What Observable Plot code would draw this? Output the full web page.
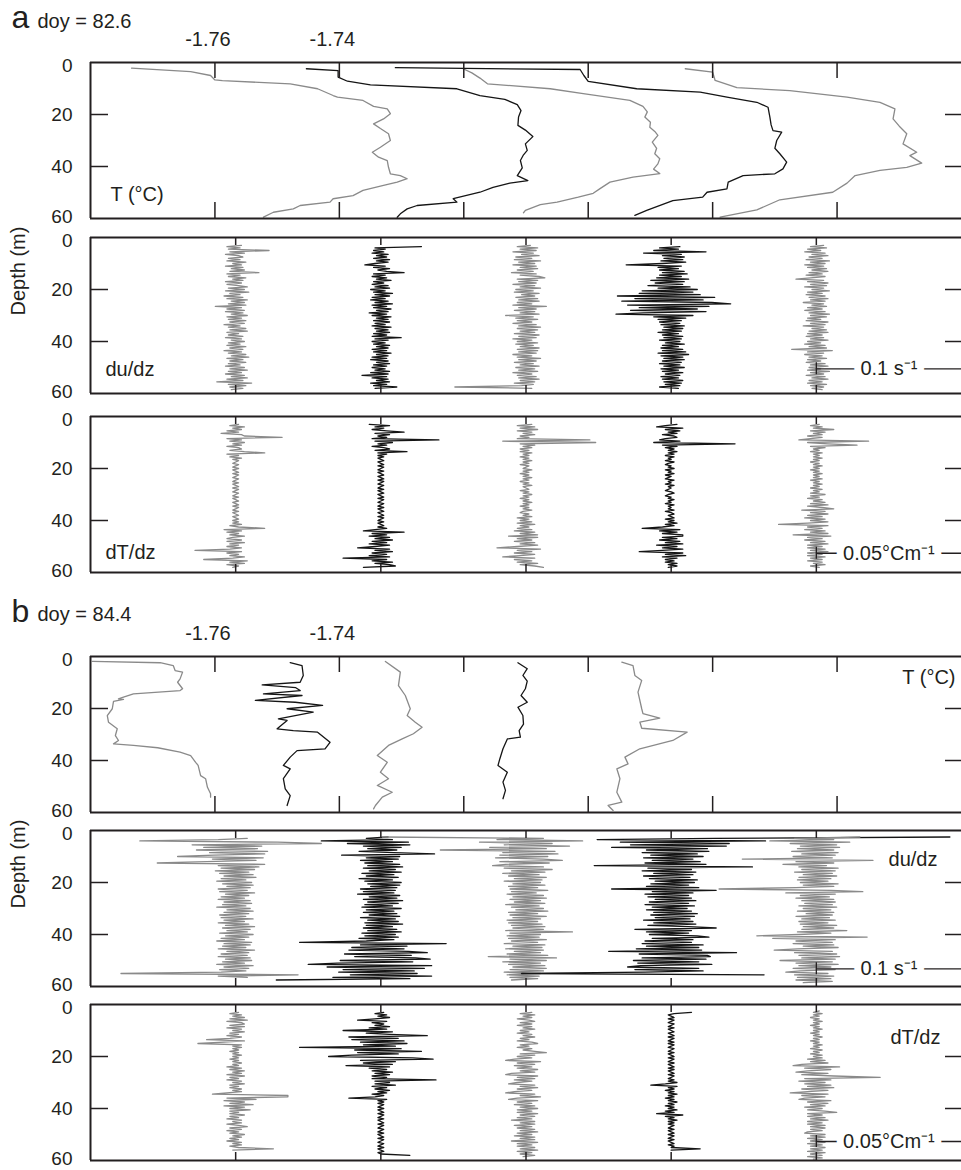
<!DOCTYPE html>
<html>
<head>
<meta charset="utf-8">
<script src="https://cdn.jsdelivr.net/npm/d3@7"></script>
<script src="https://cdn.jsdelivr.net/npm/@observablehq/plot@0.6"></script>
<style>
  body { margin: 0; background: #fff; }
  #fig { position: relative; width: 961px; height: 1170px; overflow: hidden; }
  #fig svg { position: absolute; left: 0; }
</style>
</head>
<body>
<div id="fig"></div>
<script>
// ---- axes ----
const depthTicks = [0, 20, 40, 60];
const tempTicks = [-1.76, -1.74, -1.72, -1.70, -1.68, -1.66];
const tempLabels = [-1.76, -1.74];
const tempDomain = [-1.78, -1.64];
const shearDomain = [0, 0.6];
const shearTicks = [0.1, 0.2, 0.3, 0.4, 0.5];
const shearStep = 0.1;          // s^-1 between successive profiles
const gradDomain = [0, 0.3];
const gradTicks = [0.05, 0.10, 0.15, 0.20, 0.25];
const gradStep = 0.05;          // °C m^-1 between successive profiles
const DZ = 0.5;                 // depth spacing of gradient samples (m)

// ---- temperature profiles, [depth (m), T (°C)] ----
const tempA1 = [[2.2,-1.7734],[3.5,-1.7639],[5,-1.7607],[6.7,-1.7600],[7,-1.7588],[8.2,-1.7479],[10.1,-1.7435],[12.7,-1.7410],[13.3,-1.7403],[14.6,-1.7362],[16.9,-1.7345],[17.8,-1.7323],[19.7,-1.7318],[21.7,-1.7329],[23.6,-1.7345],[25.4,-1.7334],[27.4,-1.7321],[30,-1.7318],[32.6,-1.7334],[34.5,-1.7347],[36.4,-1.7337],[37.7,-1.7323],[40.3,-1.7321],[42.8,-1.7318],[43.5,-1.7302],[44.7,-1.7291],[46,-1.7307],[47.3,-1.7329],[49.2,-1.7362],[51.2,-1.7378],[52.4,-1.7410],[53.7,-1.7415],[55,-1.7463],[56.3,-1.7474],[57.6,-1.7506],[59.5,-1.7522]];
const tempA2 = [[2.4,-1.7453],[3.1,-1.7402],[5.6,-1.7402],[7.2,-1.7387],[8.6,-1.7350],[10.1,-1.7211],[12.7,-1.7174],[14.2,-1.7134],[16.2,-1.7114],[18.5,-1.7108],[21,-1.7112],[24.2,-1.7113],[26,-1.7101],[28.5,-1.7089],[31.3,-1.7101],[33.8,-1.7098],[35.5,-1.7104],[37.7,-1.7109],[40.5,-1.7106],[43.5,-1.7114],[45.4,-1.7097],[46.4,-1.7126],[48,-1.7153],[49.9,-1.7174],[52.4,-1.7217],[53.7,-1.7211],[55,-1.7275],[56.3,-1.7291],[58.2,-1.7302],[59.5,-1.7307]];
const tempA3 = [[2.4,-1.7201],[4,-1.7187],[6,-1.7174],[8.2,-1.7162],[10.1,-1.7061],[12,-1.7008],[14.6,-1.6933],[16.9,-1.6912],[19,-1.6905],[21,-1.6909],[23,-1.6900],[24.9,-1.6901],[26.5,-1.6893],[28,-1.6888],[30.6,-1.6897],[33,-1.6890],[35.1,-1.6893],[37,-1.6885],[39,-1.6888],[41,-1.6895],[42.7,-1.6885],[44.1,-1.6928],[46,-1.6965],[48.5,-1.6981],[50.3,-1.6992],[51.8,-1.7016],[53.7,-1.7050],[54.7,-1.7077],[56.9,-1.7101],[57.8,-1.7104]];
const tempA4 = [[2,-1.7310],[2.7,-1.7013],[5,-1.7007],[7.3,-1.7000],[10.1,-1.6922],[11.4,-1.6820],[13.3,-1.6777],[15.3,-1.6729],[17.2,-1.6711],[21,-1.6708],[24,-1.6706],[26.2,-1.6703],[26.8,-1.6689],[30,-1.6697],[33,-1.6700],[35.1,-1.6692],[38.3,-1.6681],[40.9,-1.6687],[42.8,-1.6700],[43.5,-1.6751],[46,-1.6775],[48.6,-1.6777],[49.9,-1.6809],[51.8,-1.6816],[53.1,-1.6864],[56.9,-1.6906],[58.8,-1.6925]];
const tempA5 = [[2.4,-1.6844],[3.7,-1.6800],[6.9,-1.6796],[9.7,-1.6761],[10.8,-1.6676],[13.3,-1.6584],[15.3,-1.6531],[17.8,-1.6507],[21.7,-1.6510],[24.5,-1.6500],[27.4,-1.6488],[31.3,-1.6494],[34.5,-1.6472],[35.8,-1.6483],[38.7,-1.6464],[40.3,-1.6488],[41.5,-1.6531],[43.5,-1.6571],[46.4,-1.6584],[49.9,-1.6607],[52.8,-1.6692],[56.7,-1.6729],[59.5,-1.6788]];

const tempB1 = [[1.9,-1.7797],[2.4,-1.7688],[3.5,-1.7667],[5.4,-1.7664],[6,-1.7652],[8.6,-1.7656],[9.9,-1.7660],[12.4,-1.7652],[13.1,-1.7656],[14.4,-1.7731],[15.6,-1.7747],[16.3,-1.7755],[16.5,-1.7747],[17.3,-1.7763],[20.1,-1.7765],[22.7,-1.7773],[25.3,-1.7771],[27.8,-1.7757],[30.4,-1.7760],[32.3,-1.7755],[33.6,-1.7763],[34.2,-1.7731],[35.1,-1.7692],[36.8,-1.7656],[38.1,-1.7639],[40.7,-1.7631],[41.9,-1.7627],[45.8,-1.7623],[47,-1.7615],[50.3,-1.7612],[52.8,-1.7607],[54.1,-1.7607]];
const tempB2 = [[2.4,-1.7479],[3.5,-1.7460],[7.3,-1.7458],[9.9,-1.7463],[10.9,-1.7524],[12,-1.7470],[13.1,-1.7463],[14.4,-1.7522],[15,-1.7460],[16.9,-1.7535],[17.6,-1.7471],[18.8,-1.7427],[20.1,-1.7484],[21.4,-1.7442],[24,-1.7498],[24.6,-1.7484],[27.8,-1.7500],[28.5,-1.7474],[29.1,-1.7435],[33,-1.7415],[35.5,-1.7423],[36.2,-1.7468],[38.7,-1.7479],[41.9,-1.7490],[43.2,-1.7479],[47,-1.7490],[50.9,-1.7487],[53.5,-1.7479],[57.3,-1.7484]];
const tempB3 = [[1.9,-1.7326],[6,-1.7302],[11.2,-1.7305],[15,-1.7294],[20.1,-1.7286],[22.7,-1.7291],[25.3,-1.7278],[27.2,-1.7267],[29.7,-1.7281],[31.7,-1.7299],[34.2,-1.7321],[38.1,-1.7339],[40.7,-1.7323],[44.5,-1.7334],[47,-1.7321],[49.6,-1.7339],[52.2,-1.7315],[54.1,-1.7331],[57.3,-1.7342],[58.6,-1.7345]];
const tempB4 = [[2.4,-1.7113],[4.7,-1.7098],[7.3,-1.7105],[9.5,-1.7098],[12.4,-1.7101],[15,-1.7108],[17.6,-1.7098],[19.5,-1.7113],[22.7,-1.7105],[26,-1.7104],[28.5,-1.7111],[31,-1.7109],[31.7,-1.7130],[35.5,-1.7137],[39.3,-1.7142],[41.9,-1.7145],[44.5,-1.7130],[48.3,-1.7137],[51.5,-1.7133],[54.7,-1.7137]];
const tempB5 = [[2.2,-1.6946],[3.5,-1.6928],[7.3,-1.6925],[9.2,-1.6914],[13.7,-1.6920],[20.1,-1.6914],[22,-1.6912],[23.7,-1.6885],[25.2,-1.6917],[27.6,-1.6914],[29.1,-1.6841],[32.3,-1.6864],[35.5,-1.6917],[38.7,-1.6941],[41.3,-1.6936],[43.2,-1.6954],[47,-1.6949],[52.2,-1.6954],[56,-1.6946],[57.3,-1.6968],[59.2,-1.6960]];

// ---- shear du/dz (10^-3 s^-1), every DZ metres from the start depth ----
const shearStartA = [3.0, 3.5, 3.0, 3.5, 3.0];
const shearA1 = [4,-6,3,-5,23,-4,6,-7,2,5, -5,3,-6,7,-2,4,-7,5,-3,6, -4,16,-6,3,-5,7,-2,5,-7,4, -6,2,8,-5,6,-7,9,-4,3,-8, 5,-6,8,-3,6,-5,7,-14,4,-6, 6,-7,5,-3,8,-6,4,-5,7,-4, 6,-8,3,-5,7,-4,8,-6,2,-5, 5,-7,4,-3,6,-5,3,-6,7,-4, 5,-8,4,-5,7,-3,9,-6,5,-4, 7,-5,3,-7,6,-4,8,-5,4,-7, 6,-3,8,-6,5,-13,11,-5,7,-4,5,-3];
const shearA2 = [28,-4,3,-5,2,-6,5,-3,4,-5, 6,-3,5,-4,-11,3,-5,6,-2,4, 16,-5,3,-6,4,-3,7,-5,2,-6, 5,-4,6,-7,3,-5,8,-4,6,-6, 3,-7,5,-4,8,-6,4,-5,7,-3, 5,-8,4,-6,7,-3,5,-5,6,-4, 3,-6,7,-4,5,-3,6,-5,4,-6, 14,-4,5,-6,3,-5,6,-3,5,-6, 4,-5,7,-3,5,-6,4,-7,5,-3, 6,-5,4,-6,3,-4,6,-7,5,-13, 4,-6,5,-3,6,-7,4,-5,11,-4];
const shearA3 = [3,-6,8,-4,7,-9,5,-3,9,-7, 4,-8,10,-5,6,-9,7,-4,8,-6, 5,-10,7,-4,9,13,-6,8,-5,7, -9,6,-4,10,-7,5,-8,9,-3,6, -7,8,-5,9,-6,4,-9,14,-5,7, -8,6,-4,9,-14,5,-7,8,-6,4, -9,7,-5,10,-6,8,-4,6,-8,9, -5,7,-9,4,-6,8,-7,5,-4,9, -6,8,-5,7,-9,4,-6,10,-5,7, -8,5,-4,9,-7,6,-5,8,-9,4, -6,7,-5,9,-4,6,-8,5,-3,-49,4];
const shearA4 = [6,-8,5,-12,24,-19,7,-6,9,-5, 8,-7,10,-6,-31,7,-9,5,-8,9, -6,11,-8,7,-10,12,-14,9,-11,8, -16,13,-9,18,-20,15,-22,20,-37,30, -25,22,-34,28,41,-30,26,-22,18,-28, 24,-19,-38,15,-12,10,-9,7,-8,6, -7,9,-5,8,-6,7,-9,5,-6,8, -5,7,-8,6,-4,9,-6,5,-7,8, -6,10,-9,12,-7,8,-5,9,-6,7, -8,6,-5,9,-7,5,-6,8,-4,6, -7,5,-6,8,-5,7,-4,6,-8,5];
const shearA5 = [5,-4,7,-6,3,-8,6,-3,8,-5, 4,-7,9,-4,6,-8,5,-6,7,-3, 8,-5,4,-7,6,-4,-14,5,-6,8, -4,7,-8,5,-3,9,-6,4,-7,6, -5,8,-4,6,-9,5,-3,7,-6,4, -8,6,-5,9,-4,7,-6,3,-7,8, -4,6,-9,5,-3,7,-5,8,-6,4, -7,5,-4,8,-6,3,-8,6,-5,7, -17,11,-6,5,-8,4,-5,7,-6,3, -7,6,-4,8,-5,3,-6,9,-4,5, -7,6,-3,8,-5,4,-6,7,-4,5,-3,4];

const shearStartB = [3.0, 2.5, 2.5, 2.5, 2.5];
const shearB1 = [8,-12,-66,29,59,-30,18,-22,15,-27, 22,-18,20,-15,-40,19,-16,14,-20,-54, 20,-12,16,-10,13,-14,9,-11,12,-8, 14,-10,7,-13,11,-9,12,-6,10,-12, 8,-11,13,-7,9,-10,6,-12,10,-8, 11,-9,7,-13,10,-6,12,-8,9,-11, 7,-10,12,-8,6,-12,9,-7,13,-9, 10,-6,8,-11,12,-7,9,-10,6,-13, 11,-8,10,-9,7,-12,13,-6,9,-10, 8,-12,10,-7,11,-9,6,-13,12,-8, 9,-11,7,-10,-79,43,-12,8];
const shearB2 = [5,-10,8,-41,19,-23,20,-12,14,-9, 11,-15,9,37,-27,13,-10,12,-14,8, -11,13,-9,15,-12,10,-8,14,-13,9, -10,12,-15,8,-11,14,-9,13,-7,11, -14,10,-12,9,-16,13,-8,11,-12,15, -9,12,-11,8,-13,14,-10,9,-12,11, -8,13,-14,10,-9,12,-11,15,-10,8, -12,11,-9,14,-13,10,-11,12,-15,9, -10,-56,45,-14,18,-20,16,-22,19,32, -25,21,-18,24,34,-28,22,-30,-50,35, -37,30,-26,23,-29,25,-21,35,-33,20,-72];
const shearB3 = [-99,12,-20,39,-32,18,-15,30,-25,14, -59,20,-16,22,-18,15,-21,12,25,-18, 16,-14,-23,12,-15,18,-10,13,-16,9, -12,14,-8,11,-15,10,-9,13,-12,8, -11,15,-10,7,-13,12,-9,14,-11,10, -8,13,-14,9,-10,12,-7,15,-12,8, -11,14,-9,10,-13,8,-12,11,-10,13, -9,12,-14,32,-11,10,-13,9,-12,14, -10,8,-15,13,-9,11,-14,12,-8,10, -13,15,-26,21,-11,14,-16,10,-12,13, -9,14,-11,12,-15,10,-13,9,-11,8,-10];
const shearB4 = [192,30,-51,65,-35,40,-28,38,-41,25, -17,26,-20,18,-14,22,-19,15,-13,20, -18,24,-53,56,-16,14,-20,17,-12,15, -19,13,-15,18,-11,16,-14,12,-17,19, -41,31,-13,15,-18,12,-16,14,-11,17, -15,12,-18,16,-13,11,-17,14,-12,18, -14,16,-11,13,-19,15,-12,17,-16,12, 31,-25,14,-17,12,-15,18,26,-13,15, -18,14,-20,22,-17,19,-24,21,-43,45, -22,25,27,-20,24,-26,19,-23,28,-21, -30,19,-25,22,-18,-103,64];
const shearB5 = [30,-15,12,-32,23,-18,14,-11,16,-13, 12,-17,15,-10,13,-16,11,-51,39,-14, 12,-23,7,-12,15,-10,13,-15,11,-9, 14,-12,10,-13,8,-11,15,-9,12,-14, -67,10,32,-21,13,-11,9,-14,12,-10, 13,-8,11,-12,14,-9,10,-13,12,-7, 11,-14,9,-10,13,-12,8,-11,14,-9, 12,-10,21,-13,10,-12,-41,35,-30,13, -14,11,-16,12,-9,15,-13,-29,11,-15, 14,-12,16,-10,13,-25,11,-14,15,-12, 10,-16,13,-11,-21,8,-15,12,-13,10,-14,11,-9];

// ---- temperature gradient dT/dz (10^-3 °C m^-1), every DZ metres ----
const gradStartA = [3.0, 3.0, 3.0, 3.0, 3.0];
const gradA1 = [1,-2,3,-1,2,-3,1,-5,2,3, 16,-3,2,-2,3,-1,2,-3,1,2, -2,3,10,-3,1,-2,2,-1,1,0, -1,1,0,-1,1,-1,0,1,-1,1, 0,-1,1,0,-1,1,-1,0,1,-1, 1,0,-1,1,0,-1,1,-1,0,1, -1,0,1,-1,1,0,-1,1,-1,0, 1,-1,0,1,-1,1,-1,2,-2,1, 10,-4,2,-3,1,-2,3,-1,-3,2, -3,3,-2,1,-3,2,-2,-14,2,-3, 1,-2,3,-1,-11,4,-2,3,-3,1,-1];
const gradA2 = [-4,3,-2,1,-3,2,8,-2,3,-1, 2,-3,20,-2,4,-1,2,-3,1,3, -2,9,-1,2,-1,1,-1,0,1,-1, 0,1,-1,1,0,-1,1,-1,0,1, -1,0,1,-1,1,0,-1,1,0,-1, 1,-1,0,1,-1,0,1,-1,1,0, -1,1,0,-1,1,-1,0,1,-1,0, 1,-1,1,0,-1,1,-1,0,1,-1, 2,-2,-6,8,-3,2,-4,3,-2,4, -3,2,-4,3,-2,-8,3,-2,4,-3, 2,-4,3,-13,2,-3,4,-2,3,5,-6];
const gradA3 = [2,-3,3,-2,4,-3,2,-1,3,-2, 1,-3,22,-8,24,-2,3,-1,2,-2, 1,-2,2,-1,1,-2,1,-1,2,-1, 1,-2,1,0,-1,2,-1,1,-2,1, -1,2,-1,1,-2,1,-1,2,-1,0, 1,-2,1,-1,2,-1,1,-2,1,-1, 2,-1,1,-2,1,-1,2,-1,-2,1, -1,2,-3,1,-2,2,-3,3,-2,1, -3,2,-4,3,-2,4,-6,4,-3,2, -4,3,-2,4,-3,-10,5,-3,2,-4, 3,-2,-8,3,-4,2,-3,4,-2,3,6];
const gradA4 = [2,-2,-5,4,-2,3,-1,2,-3,1, 2,-2,-4,3,-6,22,-3,2,-2,1, -1,2,-1,1,-2,1,-1,0,-2,1, -1,-2,0,-1,1,-2,0,-1,1,-2, 0,-1,-2,1,-1,0,-2,1,-1,0, -1,-2,0,1,-1,-2,0,-1,1,-1, 0,-2,1,-1,0,-1,1,-2,0,1, -1,0,1,-2,1,-1,2,-2,1,-3, -10,3,-4,2,-3,4,4,-3,2,-4, 3,-2,4,-5,2,-3,4,-3,-11,4, -2,5,-3,2,-2,1,-2,2,-1,2,-1];
const gradA5 = [1,-2,2,-1,6,-2,3,-1,2,-3, 2,-2,-6,18,-3,4,14,-2,3,-1, 1,-2,2,-1,1,-1,2,-1,1,-2, 1,-1,2,-1,1,-2,1,-1,2,-1, 1,-1,2,-2,1,-1,2,-1,1,-2, 2,-1,1,-2,3,-2,1,-3,2,-1, 3,-2,4,-3,2,6,-5,3,-2,4, -3,2,-4,3,-2,4,-3,-13,4,-3, 2,-4,3,-2,4,-8,5,-3,2,-4, 3,-2,4,-3,2,-3,3,-2,4,-3, 2,-3,3,-2,2,-3,2,-1,3,-2,1];

const gradStartB = [3.0, 3.0, 3.0, 3.0, 2.5];
const gradB1 = [1,-2,2,-1,3,-2,4,-3,2,3, -2,3,-3,2,-1,3,-2,1,-3,2, -2,-10,3,-4,-13,2,-1,2,-1,1, -2,1,-1,2,-1,1,-2,1,-1,2, -1,1,-3,2,-2,3,-1,2,-3,3, -2,1,-3,2,-1,3,-2,1,-2,2, -1,2,-3,-8,18,18,-3,7,-4,3, -2,6,-4,3,-2,5,-2,1,-2,3, -2,1,-3,2,-1,2,-3,1,4,-2, 2,-3,1,-2,3,-1,2,-2,1,-3, 2,-1,2,-2,1,13,-1];
const gradB2 = [1,-2,2,-1,3,-2,-8,2,-3,1, -2,3,-4,2,-13,4,-5,3,16,-11, 6,-10,8,-7,9,-6,5,-28,7,-9, 14,-8,6,-10,-18,11,18,-7,5,-6, 4,-12,3,-4,2,-3,4,-2,3,-3, 2,-3,19,-2,3,-2,5,-3,2,-2, 3,-1,2,-3,1,-2,-11,2,-1,1, -1,1,0,-1,1,-1,0,1,-1,1, 0,-1,1,-1,0,1,-1,1,0,-1, 1,0,-1,1,-1,0,1,-1,1,0, -1,1,0,-1,1,-1,0,1,-1,0,10];
const gradB3 = [2,-2,3,-1,2,-3,1,3,-2,2, -3,2,-1,3,-2,1,-3,2,-1,3, -2,1,-3,2,4,-2,1,-3,2,-1, 3,7,-2,3,-3,2,-4,-7,5,-3, 3,-4,2,-3,4,-2,3,-5,-7,4, -3,3,-4,2,-3,-6,3,-2,4,-3, 2,-4,-7,3,-2,5,-3,-6,4,-3, 2,-4,3,-2,4,-3,2,-3,4,-2, 3,-3,2,-5,3,-2,3,-4,2,-3, 3,-2,4,-3,2,-4,3,-2,3,-5, 4,-3,2,-3,3,-2,4,-3,2,-2,3,-1];
const gradB4 = [7,1,-1,0,1,-1,1,0,-1,1, 0,-1,1,-1,0,1,-1,0,1,-1, 1,0,-1,1,-1,1,0,-1,1,0, -1,1,-1,0,1,-1,1,0,-1,1, -1,0,1,-1,1,-1,0,1,-1,1, 0,-1,1,-1,2,-2,-7,2,-1,1, -2,1,-1,2,-1,1,-2,1,-1,2, -1,1,-2,1,-1,2,-2,1,-5,4, -2,1,-1,2,-1,1,-1,1,0,-1, 1,-1,0,1,-1,1,0,-1,1,-1, 0,1,-1,1,0,10,0];
const gradB5 = [1,-1,2,-1,1,-2,1,-1,2,-1, 1,-2,1,-1,2,-1,1,-2,1,-1, 2,-1,1,-2,1,-1,2,-1,1,-2, 2,-1,1,-2,2,-1,2,-3,3,-2, 4,-5,-8,8,-4,5,-3,-7,4,-5, 6,22,-4,5,-6,3,-4,5,-3,6, -5,4,-3,-9,4,-5,3,-4,-6,5, -3,4,-2,3,-4,2,-3,3,7,-3, 2,-3,3,-2,4,-3,2,-3,3,-2, 3,-2,2,-3,-4,3,-2,3,-3,2, -2,3,-3,2,-2,3,-2,2,-3,3,-2,2,-3,2,-1];

// ---- drawing ----
const W = 961, FRAME_L = 90, PANEL_H = 156, MARGIN = 30;
const ink = "#231f20";
const profileColors = ["#8a8a8a", "#151515", "#8a8a8a", "#151515", "#8a8a8a"];
const font = "'Liberation Sans', Arial, Helvetica, sans-serif";
const fig = document.getElementById("fig");

// depth tick labels; the end labels are nudged inward so neighbouring panels don't collide
function depthLabels() {
  const opts = {y: d => d, text: d => String(d), frameAnchor: "left", dx: -18,
    textAnchor: "end", fontSize: 19, fill: ink};
  return [
    Plot.text(depthTicks.filter(d => d === 0), {...opts, dy: 3}),
    Plot.text(depthTicks.filter(d => d > 0 && d < 60), opts),
    Plot.text(depthTicks.filter(d => d === 60), {...opts, dy: -2})
  ];
}

function panel({frameTop, marginTop = MARGIN, xDomain, xTicks, tickLen, marks}) {
  const ux = (xDomain[1] - xDomain[0]) / (W - FRAME_L); // x units per pixel
  const uy = 60 / PANEL_H;                               // metres per pixel
  const x0 = xDomain[0], x1 = xDomain[1];
  const frame = [
    Plot.ruleY([0, 60], {stroke: ink, strokeWidth: 2}),
    Plot.ruleX([x0], {y1: 0, y2: 60, stroke: ink, strokeWidth: 2}),
    Plot.ruleX(xTicks, {x: d => d, y1: 0, y2: tickLen * uy, stroke: ink, strokeWidth: 1.5}),
    Plot.ruleX(xTicks, {x: d => d, y1: 60 - tickLen * uy, y2: 60, stroke: ink, strokeWidth: 1.5}),
    Plot.ruleY([20, 40], {y: d => d, x1: x0, x2: x0 + 18 * ux, stroke: ink, strokeWidth: 1.5}),
    Plot.ruleY([20, 40], {y: d => d, x1: x1 - 16 * ux, x2: x1, stroke: ink, strokeWidth: 1.5}),
    ...depthLabels()
  ];
  const svg = Plot.plot({
    width: W, height: marginTop + PANEL_H + MARGIN,
    marginLeft: FRAME_L, marginRight: 0, marginTop, marginBottom: MARGIN,
    x: {domain: xDomain, axis: null},
    y: {domain: [0, 60], reverse: true, axis: null},
    style: {background: "transparent", overflow: "visible", fontFamily: font},
    marks: [...marks, ...frame]
  });
  svg.style.top = (frameTop - marginTop) + "px";
  fig.append(svg);
}

function tempLines(profiles) {
  return profiles.map((p, k) => Plot.line(p.map(([depth, t]) => ({depth, t})),
    {x: "t", y: "depth", stroke: profileColors[k], strokeWidth: 1.3}));
}

function gradientLines(profiles, starts, step, unit) {
  return profiles.map((vals, k) => Plot.line(
    vals.map((v, i) => ({depth: starts[k] + i * DZ, x: (k + 1) * step + v * unit})),
    {x: "x", y: "depth", stroke: profileColors[k], strokeWidth: 1.3}));
}

function scaleBar(xStart, xEnd, step, depth, label) {
  return [
    Plot.ruleY([depth], {y: d => d, x1: xStart, x2: xEnd, stroke: ink, strokeWidth: 1.3}),
    Plot.ruleX([xStart], {x: d => d, y1: depth - 2.3, y2: depth + 2.3, stroke: ink, strokeWidth: 1.3}),
    Plot.text([label], {x: xStart + step / 2, y: depth, fontSize: 20, fill: ink,
      stroke: "white", strokeWidth: 14, paintOrder: "stroke"})
  ];
}

function header(letter, doy, dyDoy) {
  return [
    Plot.text([letter], {frameAnchor: "top-left", dx: -79, dy: -35, textAnchor: "start",
      lineAnchor: "bottom", fontSize: 32, fill: ink}),
    Plot.text([`doy = ${doy}`], {frameAnchor: "top-left", dx: -53, dy: dyDoy, textAnchor: "start",
      lineAnchor: "bottom", fontSize: 20, fill: ink}),
    Plot.text(tempLabels, {x: d => d, text: d => d.toFixed(2), frameAnchor: "top", dy: -17, dx: -7,
      lineAnchor: "bottom", fontSize: 20, fill: ink})
  ];
}

function label(text, anchor, dx, dy) {
  const right = anchor.endsWith("right");
  return Plot.text([text], {frameAnchor: anchor, dx, dy, textAnchor: right ? "end" : "start",
    lineAnchor: "bottom", fontSize: 20, fill: ink});
}

const depthLabel = Plot.text(["Depth (m)"], {frameAnchor: "left", dx: -72, rotate: -90, fontSize: 20, fill: ink});

// a: doy 82.6
panel({frameTop: 62, marginTop: 62, xDomain: tempDomain, xTicks: tempTicks, tickLen: 16, marks: [
  ...tempLines([tempA1, tempA2, tempA3, tempA4, tempA5]),
  ...header("a", "82.6", -35),
  label("T (°C)", "bottom-left", 20, -18)
]});
panel({frameTop: 237, xDomain: shearDomain, xTicks: shearTicks, tickLen: 8, marks: [
  ...gradientLines([shearA1, shearA2, shearA3, shearA4, shearA5], shearStartA, shearStep, 1e-3),
  ...scaleBar(shearTicks[4], shearDomain[1], shearStep, 50.5, "0.1 s⁻¹"),
  label("du/dz", "bottom-left", 15, -18),
  depthLabel
]});
panel({frameTop: 416, xDomain: gradDomain, xTicks: gradTicks, tickLen: 8, marks: [
  ...gradientLines([gradA1, gradA2, gradA3, gradA4, gradA5], gradStartA, gradStep, 1e-3),
  ...scaleBar(gradTicks[4], gradDomain[1], gradStep, 52.6, "0.05°Cm⁻¹"),
  label("dT/dz", "bottom-left", 15, -14)
]});

// b: doy 84.4
panel({frameTop: 656, marginTop: 62, xDomain: tempDomain, xTicks: tempTicks, tickLen: 16, marks: [
  ...tempLines([tempB1, tempB2, tempB3, tempB4, tempB5]),
  ...header("b", "84.4", -36),
  label("T (°C)", "top-right", -6, 27)
]});
panel({frameTop: 830, xDomain: shearDomain, xTicks: shearTicks, tickLen: 8, marks: [
  ...gradientLines([shearB1, shearB2, shearB3, shearB4, shearB5], shearStartB, shearStep, 1e-3),
  ...scaleBar(shearTicks[4], shearDomain[1], shearStep, 53.2, "0.1 s⁻¹"),
  label("du/dz", "top-right", -24, 35),
  depthLabel
]});
panel({frameTop: 1004, xDomain: gradDomain, xTicks: gradTicks, tickLen: 8, marks: [
  ...gradientLines([gradB1, gradB2, gradB3, gradB4, gradB5], gradStartB, gradStep, 1e-3),
  ...scaleBar(gradTicks[4], gradDomain[1], gradStep, 52.7, "0.05°Cm⁻¹"),
  label("dT/dz", "top-right", -21, 39)
]});
</script>
</body>
</html>
